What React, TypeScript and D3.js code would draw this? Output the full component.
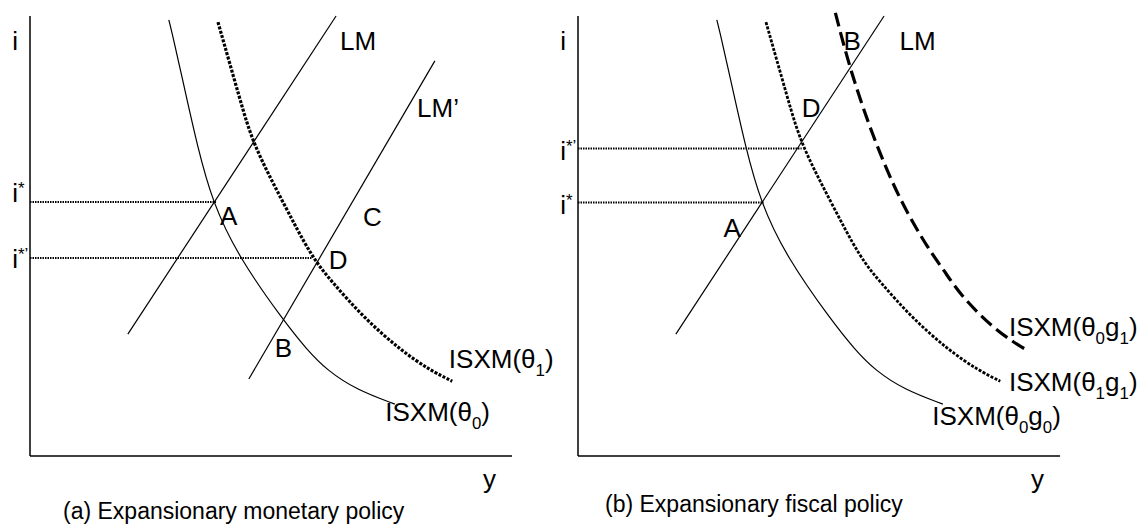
import React from 'react';
import * as d3 from 'd3';

// ---- data (output y on x-axis, interest i on y-axis, both in 0..100 units) ----
const isxmBase: [number, number][] = [
  [28.8, 99.1], [29.5, 96.1], [32.6, 80.9], [34.6, 71.1], [37.8, 57.7], [43.4, 45.0],
  [52.5, 30.9], [57.5, 24.1], [61.6, 19.5], [67.8, 15.0], [75.7, 11.8],
];
const isxmShifted: [number, number][] = [
  [39.0, 98.6], [43.6, 80.9], [46.3, 70.7], [52.5, 57.7], [58.5, 45.0], [62.9, 39.3],
  [69.1, 31.6], [76.8, 24.1], [83.0, 19.5], [87.6, 17.0],
];
const isxmFiscal: [number, number][] = [
  [53.4, 100.7], [56.3, 88.4], [60.9, 73.3], [66.7, 58.1], [72.9, 46.7], [76.0, 42.1],
  [79.1, 36.9], [85.9, 29.2], [92.1, 24.6], [93.6, 23.9],
];
const lmLine: [number, number][] = [[20.3, 27.7], [63.5, 100]];
const lmPrimeLine: [number, number][] = [[45.4, 17.5], [84.0, 89.8]];

// equilibrium interest rates: [i level, y where the guide ends]
const monetaryRates = { iStar: [57.7, 38.6], iStarPrime: [45.0, 58.5] };
const fiscalRates = { iStar: [57.6, 38.5], iStarPrime: [69.9, 46.4] };

const captions = ['(a) Expansionary monetary policy', '(b) Expansionary fiscal policy'];

// ---- layout ----
const W = 1142;
const H = 526;
const LABEL = 26;
const FONT = '"Liberation Sans", Arial, Helvetica, sans-serif';

type Part = { t: string; sub?: boolean; sup?: boolean };

function Rich({ x, y, parts, size = LABEL }: { x: number; y: number; parts: Part[]; size?: number }) {
  let shift = 0;
  const spans = parts.map((p, k) => {
    const target = p.sub ? size * 0.3 : p.sup ? -size * 0.3 : 0;
    const dy = target - shift;
    shift = target;
    return (
      <tspan key={k} dy={dy} fontSize={p.sub || p.sup ? size * 0.65 : size}>
        {p.t}
      </tspan>
    );
  });
  return (
    <text x={x} y={y} fontSize={size} fontFamily={FONT} fill="#000">
      {spans}
    </text>
  );
}

const ISXM = (subs: string[]): Part[] => {
  const out: Part[] = [{ t: 'ISXM(θ' }];
  subs.forEach((s, k) => {
    out.push({ t: s, sub: true });
    if (k < subs.length - 1) out.push({ t: 'g' });
  });
  out.push({ t: ')' });
  return out;
};

function Panel({ x0, kind }: { x0: number; kind: 'a' | 'b' }) {
  const xs = d3.scaleLinear().domain([0, 100]).range([x0, x0 + 482]);
  const ys = d3.scaleLinear().domain([0, 100]).range([456, 16]);
  const curve = d3.line<[number, number]>().x(d => xs(d[0])).y(d => ys(d[1])).curve(d3.curveBasis);
  const straight = d3.line<[number, number]>().x(d => xs(d[0])).y(d => ys(d[1]));
  const rates = kind === 'a' ? monetaryRates : fiscalRates;
  const P = (x: number, y: number) => ({ x: xs(x), y: ys(y) });

  const guide = (r: number[], key: string) => (
    <line key={key} x1={xs(0)} x2={xs(r[1])} y1={ys(r[0])} y2={ys(r[0])}
      stroke="#000" strokeWidth={2} strokeDasharray="1.5 1" />
  );

  return (
    <g>
      {/* axes */}
      <line x1={xs(0)} x2={xs(0)} y1={ys(100)} y2={ys(0)} stroke="#000" strokeWidth={1.5} />
      <line x1={xs(0)} x2={xs(100)} y1={ys(0)} y2={ys(0)} stroke="#000" strokeWidth={1.5} />
      {guide(rates.iStar, 's')}
      {guide(rates.iStarPrime, 'sp')}
      {/* curves */}
      <path d={curve(isxmBase) || ''} fill="none" stroke="#000" strokeWidth={1.2} />
      <path d={curve(isxmShifted) || ''} fill="none" stroke="#000" strokeWidth={kind === 'a' ? 3.2 : 2.8} strokeDasharray="3 1.5" />
      <path d={straight(lmLine) || ''} fill="none" stroke="#000" strokeWidth={1.2} />
      {kind === 'a' && <path d={straight(lmPrimeLine) || ''} fill="none" stroke="#000" strokeWidth={1.2} />}
      {kind === 'b' && (
        <path d={curve(isxmFiscal) || ''} fill="none" stroke="#000" strokeWidth={3.2} strokeDasharray="14 6" />
      )}
      {/* axis labels */}
      <Rich {...P(-3.7, 92.3)} parts={[{ t: 'i' }]} />
      <Rich {...P(94.0, -7.3)} parts={[{ t: 'y' }]} />
      {kind === 'a' ? (
        <>
          <Rich {...P(-3.7, 57.7)} parts={[{ t: 'i' }, { t: '*', sup: true }]} />
          <Rich {...P(-3.7, 42.7)} parts={[{ t: 'i' }, { t: '*’', sup: true }]} />
          <Rich {...P(64.3, 92.3)} parts={[{ t: 'LM' }]} />
          <Rich {...P(80.3, 77.0)} parts={[{ t: 'LM’' }]} />
          <Rich {...P(69.1, 52.3)} parts={[{ t: 'C' }]} />
          <Rich {...P(39.4, 52.5)} parts={[{ t: 'A' }]} />
          <Rich {...P(62.0, 42.5)} parts={[{ t: 'D' }]} />
          <Rich {...P(50.8, 22.5)} parts={[{ t: 'B' }]} />
          <Rich {...P(86.9, 20.0)} parts={ISXM(['1'])} />
          <Rich {...P(73.7, 8.0)} parts={ISXM(['0'])} />
        </>
      ) : (
        <>
          <Rich {...P(-3.7, 55.1)} parts={[{ t: 'i' }, { t: '*', sup: true }]} />
          <Rich {...P(-3.7, 67.3)} parts={[{ t: 'i' }, { t: '*’', sup: true }]} />
          <Rich {...P(55.1, 92.3)} parts={[{ t: 'B' }]} />
          <Rich {...P(66.7, 92.3)} parts={[{ t: 'LM' }]} />
          <Rich {...P(46.4, 77.0)} parts={[{ t: 'D' }]} />
          <Rich {...P(30.2, 49.7)} parts={[{ t: 'A' }]} />
          <Rich {...P(89.4, 27.3)} parts={ISXM(['0', '1'])} />
          <Rich {...P(89.4, 14.8)} parts={ISXM(['1', '1'])} />
          <Rich {...P(73.5, 7.0)} parts={ISXM(['0', '0'])} />
        </>
      )}
      <text x={xs(0) + (kind === 'a' ? 33 : 27)} y={kind === 'a' ? 519 : 512} fontSize={23} fontFamily={FONT} fill="#000">
        {captions[kind === 'a' ? 0 : 1]}
      </text>
    </g>
  );
}

export default function App() {
  return (
    <svg width={W} height={H} viewBox={`0 0 ${W} ${H}`}
      style={{ position: 'absolute', left: 0, top: 0, background: '#fff' }}>
      <rect width={W} height={H} fill="#fff" />
      <Panel x0={30} kind="a" />
      <Panel x0={578} kind="b" />
    </svg>
  );
}
